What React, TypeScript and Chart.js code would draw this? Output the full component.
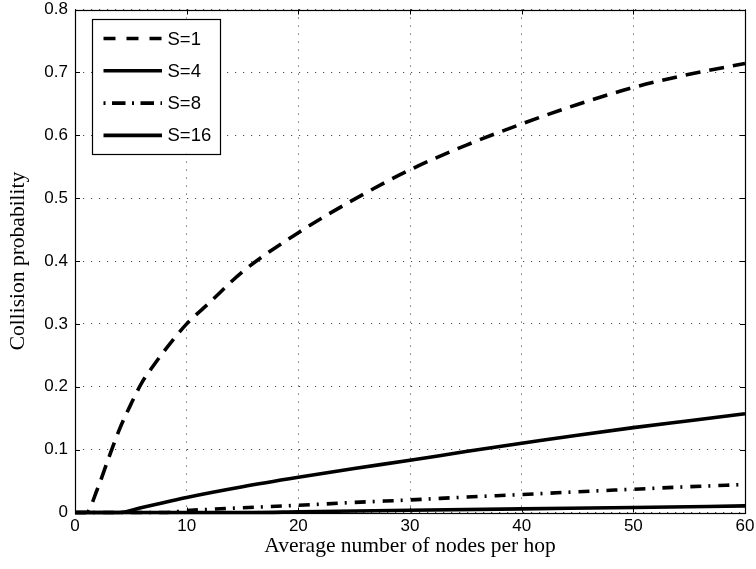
import React, { useEffect, useRef } from "react";
import { Chart, registerables } from "chart.js";

Chart.register(...registerables);

const seriesLabels = ["S=1", "S=4", "S=8", "S=16"];

const xS1 = [0, 1, 2, 3, 4, 5, 6, 7, 8, 10, 12, 15, 20, 25, 30, 35, 40, 45, 50, 55, 60];
const yS1 = [0, 0, 0.037, 0.086, 0.133, 0.172, 0.207, 0.233, 0.257, 0.3, 0.333, 0.383, 0.445, 0.498, 0.545, 0.584, 0.618, 0.649, 0.676, 0.697, 0.714];

const xS4 = [0, 4, 6, 8, 10, 15, 20, 25, 30, 35, 40, 45, 50, 55, 60];
const yS4 = [0, 0, 0.008, 0.016, 0.024, 0.041, 0.056, 0.07, 0.083, 0.097, 0.11, 0.123, 0.135, 0.146, 0.157];

const xS8 = [0, 8, 10, 15, 20, 25, 30, 35, 40, 45, 50, 55, 60];
const yS8 = [0, 0, 0.003, 0.0075, 0.0115, 0.016, 0.02, 0.0245, 0.0285, 0.033, 0.037, 0.041, 0.0445];

const xS16 = [0, 16, 20, 30, 40, 50, 60];
const yS16 = [0, 0, 0.001, 0.0035, 0.0058, 0.008, 0.0105];

const xTickValues = [0, 10, 20, 30, 40, 50, 60];
const xTickLabels = ["0", "10", "20", "30", "40", "50", "60"];
const yTickValues = [0, 0.1, 0.2, 0.3, 0.4, 0.5, 0.6, 0.7, 0.8];
const yTickLabels = ["0", "0.1", "0.2", "0.3", "0.4", "0.5", "0.6", "0.7", "0.8"];

const xTitle = "Average number of nodes per hop";
const yTitle = "Collision probability";

const plotDashes: number[][] = [[15, 9], [], [11, 7, 2, 8], []];
const legendDashes: number[][] = [[12, 11], [], [2, 6.5, 13.5, 6.5], []];

const toPoints = (xs: number[], ys: number[]) => xs.map((x, i) => ({ x, y: ys[i] }));

const framePlugin = {
  id: "matlabFrame",
  beforeDatasetsDraw(chart: any) {
    const { ctx, chartArea } = chart;
    const { left, right, top, bottom } = chartArea;
    const xs = chart.scales.x;
    const ys = chart.scales.y;
    ctx.save();
    ctx.strokeStyle = "#000";
    ctx.lineWidth = 1;
    ctx.setLineDash([]);
    ctx.beginPath();
    const tl = 5;
    xTickValues.forEach((v) => {
      const px = Math.round(xs.getPixelForValue(v)) + 0.5;
      ctx.moveTo(px, bottom);
      ctx.lineTo(px, bottom - tl);
      ctx.moveTo(px, top);
      ctx.lineTo(px, top + tl);
    });
    yTickValues.forEach((v) => {
      const py = Math.round(ys.getPixelForValue(v)) + 0.5;
      ctx.moveTo(left, py);
      ctx.lineTo(left + tl, py);
      ctx.moveTo(right, py);
      ctx.lineTo(right - tl, py);
    });
    ctx.stroke();
    ctx.lineWidth = 1.2;
    ctx.strokeRect(Math.round(left) + 0.5, Math.round(top) + 0.5, Math.round(right - left), Math.round(bottom - top));
    ctx.restore();
  },
};

const legendPlugin = {
  id: "insideLegend",
  afterDraw(chart: any) {
    const { ctx, chartArea } = chart;
    const bx = chartArea.left + 17;
    const by = chartArea.top + 9;
    const bw = 128;
    const bh = 135;
    ctx.save();
    ctx.fillStyle = "#fff";
    ctx.fillRect(bx, by, bw, bh);
    ctx.strokeStyle = "#000";
    ctx.lineWidth = 1.2;
    ctx.setLineDash([]);
    ctx.strokeRect(Math.round(bx) + 0.5, Math.round(by) + 0.5, bw, bh);
    ctx.font = "18.5px 'Liberation Sans', Arial, sans-serif";
    ctx.textBaseline = "middle";
    ctx.fillStyle = "#000";
    seriesLabels.forEach((lab, i) => {
      const cy = by + 20 + i * 32.3;
      ctx.beginPath();
      ctx.lineWidth = 3.6;
      ctx.lineCap = "butt";
      ctx.setLineDash(legendDashes[i]);
      ctx.moveTo(bx + 11.5, cy);
      ctx.lineTo(bx + 70, cy);
      ctx.stroke();
      ctx.setLineDash([]);
      ctx.fillText(lab, bx + 75.5, cy + 1);
    });
    ctx.restore();
  },
};

export default function App() {
  const ref = useRef<HTMLCanvasElement | null>(null);

  useEffect(() => {
    if (!ref.current) return;
    const seriesX = [xS1, xS4, xS8, xS16];
    const seriesY = [yS1, yS4, yS8, yS16];
    const chart = new Chart(ref.current, {
      type: "line",
      data: {
        datasets: seriesLabels.map((label, i) => ({
          label,
          data: toPoints(seriesX[i], seriesY[i]),
          borderColor: "#000",
          backgroundColor: "#000",
          borderWidth: 3.6,
          borderDash: plotDashes[i],
          pointRadius: 0,
          fill: false,
          cubicInterpolationMode: "monotone" as const,
          clip: false as any,
        })),
      },
      options: {
        animation: false,
        responsive: false,
        maintainAspectRatio: false,
        layout: { padding: { left: 0, right: 11, top: 9.5, bottom: 0 } },
        plugins: {
          legend: { display: false },
          tooltip: { enabled: false },
        },
        scales: {
          x: {
            type: "linear",
            min: 0,
            max: 60,
            afterFit: (s: any) => {
              s.height = 56.5;
              s.paddingLeft = 0;
              s.paddingRight = 0;
            },
            afterBuildTicks: (s: any) => {
              s.ticks = xTickValues.map((v) => ({ value: v }));
            },
            ticks: {
              color: "#000",
              font: { family: "'Liberation Sans', Arial, sans-serif", size: 17 },
              padding: 4,
              maxRotation: 0,
              callback: (v: any) => {
                const i = xTickValues.indexOf(Number(v));
                return i >= 0 ? xTickLabels[i] : "";
              },
            },
            grid: {
              drawTicks: false,
              color: "rgba(0,0,0,0.7)",
              lineWidth: 1,
            },
            border: { display: false, dash: [1.2, 6.8] },
            title: {
              display: true,
              text: xTitle,
              color: "#000",
              font: { family: "'Liberation Serif', 'Times New Roman', serif", size: 21.5 },
              padding: { top: 0, bottom: 10 },
            },
          },
          y: {
            type: "linear",
            min: 0,
            max: 0.8,
            afterFit: (s: any) => {
              s.width = 75;
              s.paddingTop = 0;
              s.paddingBottom = 0;
            },
            afterBuildTicks: (s: any) => {
              s.ticks = yTickValues.map((v) => ({ value: v }));
            },
            ticks: {
              color: "#000",
              font: { family: "'Liberation Sans', Arial, sans-serif", size: 17 },
              padding: 7,
              callback: (v: any, idx: number) => yTickLabels[idx],
            },
            grid: {
              drawTicks: false,
              color: "rgba(0,0,0,0.7)",
              lineWidth: 1,
            },
            border: { display: false, dash: [1.2, 6.8] },
            title: {
              display: true,
              text: yTitle,
              color: "#000",
              font: { family: "'Liberation Serif', 'Times New Roman', serif", size: 21.5 },
              padding: { top: 5, bottom: 0 },
            },
          },
        },
      },
      plugins: [framePlugin, legendPlugin],
    });
    return () => chart.destroy();
  }, []);

  return (
    <div style={{ position: "absolute", left: 0, top: 0, width: 756, height: 569, background: "#fff" }}>
      <canvas ref={ref} width={756} height={569} style={{ display: "block" }} />
    </div>
  );
}
